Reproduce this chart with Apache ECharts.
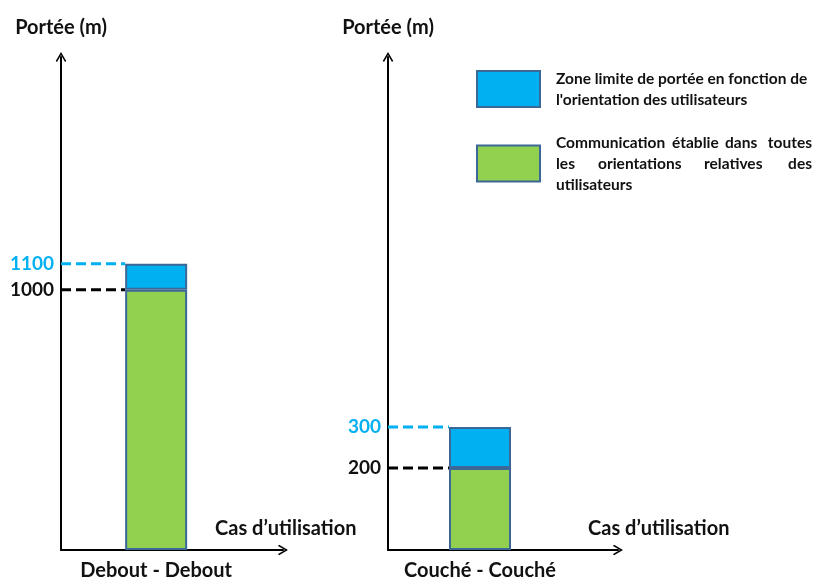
<!DOCTYPE html>
<html>
<head>
<meta charset="utf-8">
<script src="https://cdn.jsdelivr.net/npm/echarts@6/dist/echarts.min.js"></script>
<style>html,body{margin:0;padding:0;background:#fff}#c{width:814px;height:581px}</style>
</head>
<body>
<div id="c"></div>
<script>
// ---- data ----
const categories = ['Debout - Debout', 'Couché - Couché'];
const establishedRange = [1000, 200];   // Communication établie (green)
const limitZone = [100, 100];           // Zone limite (blue), stacked on top
const tickValues = [[1000, 1100], [200, 300]];
const yAxisMax = [1894, 1202];
const seriesNames = [
  "Zone limite de portée en fonction de l'orientation des utilisateurs",
  'Communication établie dans toutes les orientations relatives des utilisateurs'
];
const yAxisName = 'Portée (m)';
const xAxisName = 'Cas d’utilisation';

// ---- layout helpers (not data) ----
const FONT = 'Lato';
const BLUE = '#00B0F0', GREEN = '#92D050', BORDER = '#3B6896';
const BAR_W = 62;
const arrowPath = 'path://M5,0 L10,8.5 L8.8,9.5 L5,2.8 L1.2,9.5 L0,8.5 Z';
const slots = [{n: 8, at: 3}, {n: 6, at: 2}];
const grids = [
  {left: 61, right: 814 - 283, top: 57, bottom: 31},
  {left: 388, right: 814 - 618, top: 57, bottom: 31}
];
const nameShift = [-68, -30];

const legendFormatter = function (name) {
  if (name === seriesNames[0]) return "Zone limite de portée en fonction de\nl'orientation des utilisateurs";
  return '{a1|Communication}{a2|établie}{a3|dans}{a4|toutes}\n' +
         '{b1|les}{b2|orientations}{b3|relatives}{b4|des}\n' +
         'utilisateurs';
};
const L = {fontFamily: FONT, fontWeight: 'bold', fontSize: 15.5, lineHeight: 21, color: '#111'};
const rich = {
  a1: Object.assign({width: 116}, L), a2: Object.assign({width: 53}, L),
  a3: Object.assign({width: 40}, L), a4: Object.assign({width: 47, align: 'right'}, L),
  b1: Object.assign({width: 42}, L), b2: Object.assign({width: 106}, L),
  b3: Object.assign({width: 84}, L), b4: Object.assign({width: 23, align: 'right'}, L)
};

const option = {
  animation: false,
  backgroundColor: '#fff',
  textStyle: {fontFamily: FONT},
  grid: grids.map(g => Object.assign({outerBoundsMode: 'none', containLabel: false}, g)),
  legend: {
    data: seriesNames,
    orient: 'vertical',
    left: 476, top: 68,
    padding: 0,
    itemWidth: 63, itemHeight: 36,
    itemGap: 22,
    icon: 'rect',
    selectedMode: false,
    formatter: legendFormatter,
    textStyle: Object.assign({padding: [0, 0, 0, 11], rich: rich}, L)
  },
  xAxis: categories.map((c, i) => ({
    type: 'category',
    gridIndex: i,
    boundaryGap: false,
    data: Array.from({length: slots[i].n}, (_, k) => k === slots[i].at ? c : ' '.repeat(k + 1)),
    name: xAxisName,
    nameLocation: 'end',
    nameGap: nameShift[i],
    nameTextStyle: {fontFamily: FONT, fontWeight: 'bold', fontSize: 20, color: '#111', align: 'left', verticalAlign: 'bottom', padding: [0, 0, 11, 0]},
    axisLine: {show: true, lineStyle: {color: '#000', width: 2}, symbol: ['none', arrowPath], symbolSize: [11, 10]},
    axisTick: {show: false},
    axisLabel: {show: true, interval: 0, margin: 11, fontFamily: FONT, fontWeight: 'bold', fontSize: 20, color: '#111'},
    splitLine: {show: false}
  })),
  yAxis: categories.map((c, i) => ({
    type: 'value',
    gridIndex: i,
    min: 0,
    max: yAxisMax[i],
    name: yAxisName,
    nameLocation: 'end',
    nameGap: 19,
    nameTextStyle: {fontFamily: FONT, fontWeight: 'bold', fontSize: 20, color: '#111', align: 'center'},
    axisLine: {show: true, lineStyle: {color: '#000', width: 2}, symbol: ['none', arrowPath], symbolSize: [11, 10]},
    axisTick: {show: false},
    splitLine: {show: false},
    axisLabel: {
      show: true,
      customValues: tickValues[i],
      margin: 7,
      fontFamily: FONT, fontWeight: 'bold', fontSize: 19,
      formatter: v => String(v),
      color: v => (Number(v) === tickValues[i][1] ? BLUE : '#111')
    }
  })),
  series: []
};

function dashSeries(i, value, color) {
  const at = slots[i].at;
  return {
    type: 'custom', xAxisIndex: i, yAxisIndex: i, z: 1, silent: true,
    data: [[at, value]],
    encode: {x: 0, y: 1},
    renderItem: function (params, api) {
      const v = api.value(1);
      const s = api.coord([0, v]);
      const e = api.coord([api.value(0), v]);
      return {
        type: 'line',
        shape: {x1: s[0], y1: s[1], x2: e[0] - BAR_W / 2, y2: e[1]},
        style: {stroke: color, lineWidth: 3, lineDash: [10, 5], fill: null}
      };
    }
  };
}

categories.forEach((c, i) => {
  const n = slots[i].n, at = slots[i].at;
  const col = v => Array.from({length: n}, (_, k) => (k === at ? v : '-'));
  option.series.push({
    name: seriesNames[1], type: 'bar', xAxisIndex: i, yAxisIndex: i, stack: 'p' + i,
    barWidth: BAR_W, z: 3,
    itemStyle: {color: GREEN, borderColor: BORDER, borderWidth: 2},
    data: col(establishedRange[i])
  });
  option.series.push({
    name: seriesNames[0], type: 'bar', xAxisIndex: i, yAxisIndex: i, stack: 'p' + i,
    barWidth: BAR_W, z: 3,
    itemStyle: {color: BLUE, borderColor: BORDER, borderWidth: 2},
    data: col(limitZone[i])
  });
  option.series.push(dashSeries(i, establishedRange[i], '#000'));
  option.series.push(dashSeries(i, establishedRange[i] + limitZone[i], BLUE));
});

const chart = echarts.init(document.getElementById('c'), null, {renderer: 'canvas'});
chart.setOption(option);
</script>
</body>
</html>
